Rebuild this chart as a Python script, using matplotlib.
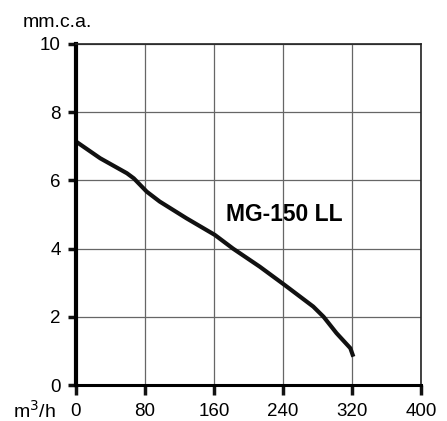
import matplotlib
matplotlib.use("Agg")
import matplotlib.pyplot as plt

plt.rcParams['font.family'] = ['Liberation Sans', 'DejaVu Sans']

# Pump curve
flow = [0, 28, 59, 67, 82, 97, 128, 161, 182, 213, 242, 275, 287, 302, 318, 321.5]
head = [7.14, 6.65, 6.21, 6.06, 5.67, 5.38, 4.89, 4.40, 4.00, 3.47, 2.93, 2.30, 2.00, 1.52, 1.08, 0.83]

x_ticks = [0, 80, 160, 240, 320, 400]
y_ticks = [0, 2, 4, 6, 8, 10]
model = "MG-150 LL"

fig = plt.figure(figsize=(4.47, 4.21), dpi=100)
ax = fig.add_axes([0.170, 0.0855, 0.772, 0.81])

ax.plot(flow, head, color="#111111", linewidth=3, solid_capstyle="butt", zorder=3)

ax.set_xlim(0, 400)
ax.set_ylim(0, 10)
ax.set_xticks(x_ticks)
ax.set_yticks(y_ticks)
ax.grid(True, color="#666666", linewidth=0.9)

ax.spines["left"].set_linewidth(3)
ax.spines["bottom"].set_linewidth(2.2)
for s in ("top", "right"):
    ax.spines[s].set_linewidth(1.2)
    ax.spines[s].set_color("#222222")
for s in ax.spines.values():
    s.set_zorder(4)

ax.tick_params(axis="both", width=2.5, labelsize=13.5, color="#111111")
ax.tick_params(axis="x", length=7, pad=6)
ax.tick_params(axis="y", length=6, pad=5)

ax.text(174, 4.99, model, fontsize=16.5, fontweight="bold", va="center", ha="left")
fig.text(0.050, 0.947, "mm.c.a.", fontsize=14, ha="left", va="center")
fig.text(0.028, 0.024, "m$^3$/h", fontsize=14, ha="left", va="center")

fig.savefig("out.png", dpi=100)
